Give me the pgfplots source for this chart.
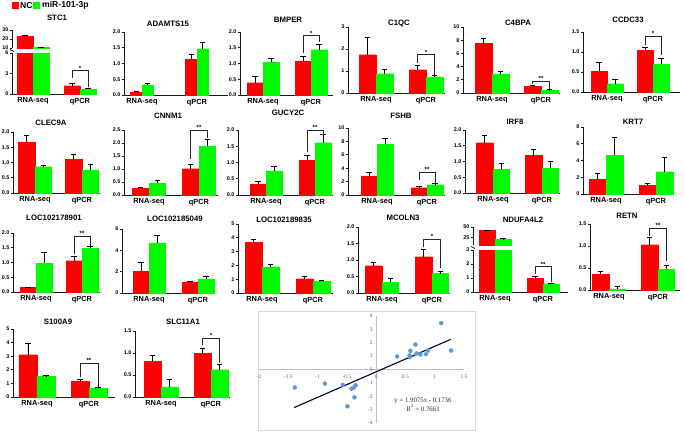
\documentclass[border=0pt]{standalone}
\usepackage{pgfplots}
\pgfplotsset{compat=1.18}
\usepackage{fontspec}
\setmainfont{Liberation Sans}
\newfontfamily\timesf{Liberation Serif}
\definecolor{ncred}{RGB}{255,0,0}
\definecolor{mirgreen}{RGB}{0,250,0}
\definecolor{dotblue}{RGB}{91,155,213}

\newcommand\geom[6]{%
 \pgfmathsetmacro\gW{#3-#1}%
 \pgfmathsetmacro\gH{#2-#4}%
 \pgfmathsetmacro\gxmin{(#1-#5)/(#6-#5)}%
 \pgfmathsetmacro\gxmax{(#3-#5)/(#6-#5)}%
 \def\gX{#1}\def\gY{#2}}

\newcommand\sig[5]{%
 \draw[line width=0.7pt, black!85] ([xshift=-0.5*#1pt]axis cs:1,#2) |- ([xshift=0.5*#1pt]axis cs:1,#3) -- ([xshift=0.5*#1pt]axis cs:1,#4);
 \node[anchor=south, inner sep=0.4pt, font=\fontsize{6}{6}\selectfont\bfseries] at (axis cs:1,#3) {#5};}

\newcommand\ttl[3]{\node[font=\fontsize{7.8}{9}\selectfont\bfseries] at (#1pt,-#2pt) {#3};}

\pgfplotsset{
 bp/.style={
  scale only axis, anchor=south west,
  at={(\gX pt,-\gY pt)}, width=\gW pt, height=\gH pt,
  xmin=\gxmin, xmax=\gxmax,
  axis x line*=bottom, axis y line*=left,
  axis line style={-, line width=0.9pt, black!90},
  ybar=0pt, ymin=0,
  xtick={0,1}, xticklabels={RNA-seq,qPCR},
  xticklabel style={font=\fontsize{7.4}{8}\selectfont\bfseries, inner sep=1.5pt},
  yticklabel style={font=\fontsize{5.4}{6}\selectfont\bfseries, inner sep=1.2pt},
  x tick style={draw=none},
  y tick style={line width=0.8pt, black!90},
  tick align=outside, major tick length=2.2pt,
  clip mode=individual,
  /pgf/number format/assume math mode=true,
  scaled y ticks=false,
 },
 d1/.style={yticklabel style={/pgf/number format/.cd, fixed, fixed zerofill, precision=1}},
 eb/.style={error bars/y dir=plus, error bars/y explicit,
   error bars/error bar style={line width=0.8pt, black},
   error bars/error mark=-,
   error bars/error mark options={rotate=90, line width=0.8pt, black, mark size=2.6pt}},
 nc/.style={fill=ncred, draw=ncred, line width=0.1pt, eb},
 mir/.style={fill=mirgreen, draw=mirgreen, line width=0.1pt, eb},
}

\begin{document}
\begin{tikzpicture}
\useasboundingbox (0,0) rectangle (685pt,-431pt);
% legend
\fill[ncred] (12pt,-2pt) rectangle (19pt,-9pt);
\node[anchor=west,inner sep=0pt,font=\fontsize{8.6}{9}\selectfont\bfseries] at (20pt,-5.5pt) {NC};
\fill[mirgreen] (33pt,-2pt) rectangle (40pt,-9pt);
\node[anchor=west,inner sep=0pt,font=\fontsize{8.6}{9}\selectfont\bfseries] at (42pt,-5.5pt) {miR-101-3p};

% ---------- Row 1 ----------
% STC1 lower
\geom{12}{94}{97}{53}{33}{80}
\begin{axis}[bp, ymax=6, ytick={0,3,6}, bar width=16pt]
\addplot[nc] coordinates {(0,23.2) (1,1.22) +- (0,0.28)};
\addplot[mir] coordinates {(0,10.8) (1,0.73) +- (0,0.10)};
\sig{16}{2.34}{3.41}{1.02}{*}
\end{axis}
% STC1 upper
\geom{12}{48}{97}{30}{33}{80}
\begin{axis}[bp, ymin=10, ymax=30, ytick={10,20,30}, axis x line=none, bar width=16pt]
\addplot[nc] coordinates {(0,23.2) +- (0,1.2)};
\addplot[mir] coordinates {(0,10.8) +- (0,0.3)};
\end{axis}
\draw[line width=0.8pt, black!90] (10pt,-49.5pt) -- (14pt,-51.5pt);
\ttl{57}{18}{STC1}

% ADAMTS15
\geom{124}{95}{228}{32}{142}{197}
\begin{axis}[bp, d1, ymax=2, ytick={0,0.5,...,2}, bar width=11.5pt]
\addplot[nc] coordinates {(0,0.085) +- (0,0.04) (1,1.14) +- (0,0.14)};
\addplot[mir] coordinates {(0,0.32) +- (0,0.05) (1,1.47) +- (0,0.21)};
\end{axis}
\ttl{168}{24}{ADAMTS15}

% BMPER
\geom{240}{95}{333}{32}{263}{311}
\begin{axis}[bp, d1, ymax=2, ytick={0,0.5,...,2}, bar width=16pt]
\addplot[nc] coordinates {(0,0.39) +- (0,0.19) (1,1.08) +- (0,0.14)};
\addplot[mir] coordinates {(0,1.04) +- (0,0.11) (1,1.44) +- (0,0.16)};
\sig{16}{1.33}{1.88}{1.67}{*}
\end{axis}
\ttl{288}{20}{BMPER}

% C1QC
\geom{348}{93}{445}{27}{376}{426}
\begin{axis}[bp, ymax=3, ytick={0,1,2,3}, bar width=17pt]
\addplot[nc] coordinates {(0,1.74) +- (0,0.80) (1,1.06) +- (0,0.18)};
\addplot[mir] coordinates {(0,0.88) +- (0,0.20) (1,0.73) +- (0,0.06)};
\sig{17}{1.36}{1.74}{0.82}{*}
\end{axis}
\ttl{399}{24}{C1QC}

% C4BPA
\geom{463}{93}{560}{27}{492}{541}
\begin{axis}[bp, ymax=10, ytick={0,2,...,10}, bar width=17pt]
\addplot[nc] coordinates {(0,7.5) +- (0,0.75) (1,1.0) +- (0,0.15)};
\addplot[mir] coordinates {(0,2.9) +- (0,0.30) (1,0.42) +- (0,0.10)};
\sig{17}{1.3}{1.75}{0.6}{**}
\end{axis}
\ttl{518}{23}{C4BPA}

% CCDC33
\geom{583}{92}{680}{32}{607}{653}
\begin{axis}[bp, d1, ymax=1.5, ytick={0,0.5,...,1.5}, bar width=16pt]
\addplot[nc] coordinates {(0,0.525) +- (0,0.22) (1,1.04) +- (0,0.08)};
\addplot[mir] coordinates {(0,0.21) +- (0,0.10) (1,0.70) +- (0,0.14)};
\sig{16}{1.17}{1.39}{0.92}{*}
\end{axis}
\ttl{628}{20}{CCDC33}

% ---------- Row 2 ----------
% CLEC9A
\geom{13}{193}{100}{132}{35}{82}
\begin{axis}[bp, d1, ymax=2, ytick={0,0.5,...,2}, bar width=16.5pt]
\addplot[nc] coordinates {(0,1.675) +- (0,0.215) (1,1.10) +- (0,0.18)};
\addplot[mir] coordinates {(0,0.865) +- (0,0.05) (1,0.757) +- (0,0.18)};
\end{axis}
\ttl{51}{123}{CLEC9A}

% CNNM1
\geom{124}{195}{218}{130}{149}{199}
\begin{axis}[bp, d1, ymax=2.5, ytick={0,0.5,...,2.5}, bar width=16.5pt]
\addplot[nc] coordinates {(0,0.256) +- (0,0.035) (1,1.01) +- (0,0.17)};
\addplot[mir] coordinates {(0,0.47) +- (0,0.11) (1,1.88) +- (0,0.27)};
\sig{16.5}{1.37}{2.5}{2.18}{**}
\end{axis}
\ttl{168}{116}{CNNM1}

% GUCY2C
\geom{238}{195}{333}{130}{266}{315}
\begin{axis}[bp, d1, ymax=2, ytick={0,0.5,...,2}, bar width=16pt]
\addplot[nc] coordinates {(0,0.34) +- (0,0.07) (1,1.077) +- (0,0.15)};
\addplot[mir] coordinates {(0,0.74) +- (0,0.13) (1,1.61) +- (0,0.26)};
\sig{16}{1.33}{2.0}{1.85}{**}
\end{axis}
\ttl{288}{113}{GUCY2C}

% FSHB
\geom{348}{195}{445}{128}{377}{427}
\begin{axis}[bp, ymax=10, ytick={0,2,...,10}, bar width=16pt]
\addplot[nc] coordinates {(0,2.85) +- (0,0.5) (1,1.1) +- (0,0.15)};
\addplot[mir] coordinates {(0,7.6) +- (0,0.9) (1,1.55) +- (0,0.15)};
\sig{16}{2.25}{3.35}{1.8}{**}
\end{axis}
\ttl{401}{116}{FSHB}

% IRF8
\geom{465}{193}{560}{130}{493}{542}
\begin{axis}[bp, d1, ymax=2, ytick={0,0.5,...,2}, bar width=16.5pt]
\addplot[nc] coordinates {(0,1.6) +- (0,0.24) (1,1.19) +- (0,0.18)};
\addplot[mir] coordinates {(0,0.76) +- (0,0.19) (1,0.79) +- (0,0.21)};
\end{axis}
\ttl{515}{122}{IRF8}

% KRT7
\geom{583}{194}{674}{127}{606}{656}
\begin{axis}[bp, ymax=8, ytick={0,2,...,8}, bar width=17pt]
\addplot[nc] coordinates {(0,1.76) +- (0,0.72) (1,1.04) +- (0,0.24)};
\addplot[mir] coordinates {(0,4.6) +- (0,2.2) (1,2.68) +- (0,1.68)};
\end{axis}
\ttl{633}{122}{KRT7}

% ---------- Row 3 ----------
% LOC102178901
\geom{13}{292}{100}{233}{36}{82}
\begin{axis}[bp, d1, ymax=2, ytick={0,0.5,...,2}, bar width=16pt]
\addplot[nc] coordinates {(0,0.153) +- (0,0.02) (1,1.06) +- (0,0.14)};
\addplot[mir] coordinates {(0,0.98) +- (0,0.37) (1,1.48) +- (0,0.07)};
\sig{16}{1.28}{1.88}{1.57}{**}
\end{axis}
\ttl{54}{218}{LOC102178901}

% LOC102185049
\geom{122}{293}{215}{229}{149}{198}
\begin{axis}[bp, ymax=6, ytick={0,2,4,6}, bar width=16pt]
\addplot[nc] coordinates {(0,2.06) +- (0,0.77) (1,1.02) +- (0,0.08)};
\addplot[mir] coordinates {(0,4.7) +- (0,0.68) (1,1.32) +- (0,0.25)};
\end{axis}
\ttl{175}{219}{LOC102185049}

% LOC102189835
\geom{238}{293}{333}{224}{262}{313}
\begin{axis}[bp, ymax=5, ytick={0,1,...,5}, bar width=17pt]
\addplot[nc] coordinates {(0,3.66) +- (0,0.19) (1,1.04) +- (0,0.15)};
\addplot[mir] coordinates {(0,1.9) +- (0,0.16) (1,0.85) +- (0,0.07)};
\end{axis}
\ttl{284}{220}{LOC102189835}

% MCOLN3
\geom{358}{293}{450}{227}{382}{432}
\begin{axis}[bp, d1, ymax=2, ytick={0,0.5,...,2}, bar width=16.5pt]
\addplot[nc] coordinates {(0,0.83) +- (0,0.10) (1,1.10) +- (0,0.21)};
\addplot[mir] coordinates {(0,0.32) +- (0,0.12) (1,0.59) +- (0,0.07)};
\sig{16.5}{1.38}{1.64}{0.75}{*}
\end{axis}
\ttl{403}{218}{MCOLN3}

% NDUFA4L2 lower
\geom{473}{292}{568}{250}{495}{543}
\begin{axis}[bp, ymax=3, ytick={0,1,2,3}, bar width=16pt]
\addplot[nc] coordinates {(0,42) (1,1.0) +- (0,0.08)};
\addplot[mir] coordinates {(0,22) (1,0.6) +- (0,0.05)};
\sig{16}{1.32}{1.8}{0.72}{**}
\end{axis}
% NDUFA4L2 upper
\geom{473}{245}{568}{227}{495}{543}
\begin{axis}[bp, ymin=7, ymax=50, ytick={25,50}, axis x line=none, bar width=16pt]
\addplot[nc] coordinates {(0,42) +- (0,1)};
\addplot[mir] coordinates {(0,22) +- (0,0.5)};
\end{axis}
\draw[line width=0.8pt, black!90] (471pt,-246.5pt) -- (475pt,-248.5pt);
\ttl{523}{220}{NDUFA4L2}

% RETN
\geom{590}{290}{680}{224}{609}{658}
\begin{axis}[bp, d1, ymax=1.5, ytick={0,0.5,...,1.5}, bar width=16.5pt]
\addplot[nc] coordinates {(0,0.36) +- (0,0.06) (1,1.03) +- (0,0.16)};
\addplot[mir] coordinates {(0,0.023) +- (0,0.054) (1,0.477) +- (0,0.083)};
\sig{16.5}{1.22}{1.40}{0.65}{**}
\end{axis}
\ttl{627}{216}{RETN}

% ---------- Row 4 ----------
% S100A9
\geom{13}{397}{115}{329}{37}{89}
\begin{axis}[bp, ymax=5, ytick={0,1,...,5}, bar width=18pt]
\addplot[nc] coordinates {(0,3.12) +- (0,0.83) (1,1.16) +- (0,0.12)};
\addplot[mir] coordinates {(0,1.51) +- (0,0.07) (1,0.64) +- (0,0.07)};
\sig{18}{1.47}{2.46}{0.76}{**}
\end{axis}
\ttl{58}{322}{S100A9}

% SLC11A1
\geom{135}{397}{230}{331}{161}{211}
\begin{axis}[bp, d1, ymax=1.5, ytick={0,0.5,...,1.5}, bar width=17pt]
\addplot[nc] coordinates {(0,0.81) +- (0,0.14) (1,1.0) +- (0,0.11)};
\addplot[mir] coordinates {(0,0.23) +- (0,0.16) (1,0.62) +- (0,0.11)};
\sig{17}{1.19}{1.33}{0.78}{*}
\end{axis}
\ttl{183}{322}{SLC11A1}

% ---------- Scatter ----------
\draw[black!15, line width=0.6pt] (258pt,-311pt) rectangle (475pt,-430.5pt);
\begin{axis}[scale only axis, anchor=south west, at={(259pt,-423pt)},
  width=205pt, height=107pt,
  xmin=-2, xmax=1.5, ymin=-4, ymax=4,
  axis lines=middle, axis line style={-, draw=black!25, line width=0.5pt},
  xtick={-2,-1.5,-1,-0.5,0,0.5,1,1.5}, ytick={-4,-3,-2,-1,0,1,2,3,4},
  major tick length=0pt,
  hide obscured x ticks=false, hide obscured y ticks=false,
  ticklabel style={font=\timesf\fontsize{5.5}{6}\selectfont, text=black!60},
  xticklabel style={yshift=-2pt},
  /pgf/number format/assume math mode=true,
  clip=false]
\addplot[only marks, mark=*, mark size=2pt, mark options={fill=dotblue, draw=dotblue}] coordinates {
(-1.39,-1.35) (-0.875,-1.05) (-0.57,-1.15) (-0.42,-1.43) (-0.38,-1.35) (-0.35,-1.18)
(-0.37,-2.08) (-0.49,-2.75) (0.36,0.98) (0.57,1.05) (0.575,0.93) (0.585,1.4)
(0.67,1.87) (0.69,1.2) (0.755,1.12) (0.85,1.15) (0.885,1.42) (1.11,3.47) (1.28,1.42)};
\addplot[black!80!blue, line width=1.1pt] coordinates {(-1.4,-2.844) (1.27,2.249)};
\node[align=center, font=\timesf\fontsize{6.8}{8.5}\selectfont, text=black!85] at (axis cs:0.8,-2.62) {y = 1.9075x - 0.1736\\R\textsuperscript{2} = 0.7661};
\end{axis}
\end{tikzpicture}
\end{document}
